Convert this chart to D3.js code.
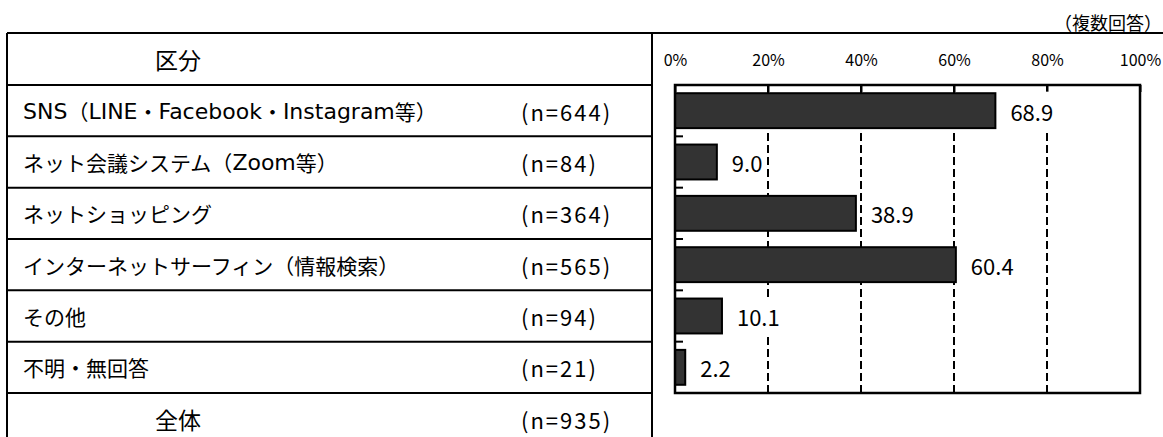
<!DOCTYPE html>
<html>
<head>
<meta charset="utf-8">
<script src="https://cdn.jsdelivr.net/npm/d3@7"></script>
<style>
  body { margin: 0; background: #fff; }
  svg text { font-family: "Noto Sans CJK JP", "Noto Sans", sans-serif; fill: #000; }
  svg tspan.latin { font-family: "DejaVu Sans", "Noto Sans CJK JP", sans-serif; font-size: 22px; }
</style>
</head>
<body>
<svg id="chart" width="1163" height="437"></svg>
<script>
// data
const categories = [
  "SNS（LINE・Facebook・Instagram等）",
  "ネット会議システム（Zoom等）",
  "ネットショッピング",
  "インターネットサーフィン（情報検索）",
  "その他",
  "不明・無回答"
];
const nCounts = [644, 84, 364, 565, 94, 21];
const values = [68.9, 9.0, 38.9, 60.4, 10.1, 2.2];
const totalLabel = "全体";
const totalN = 935;
const xTicks = [0, 20, 40, 60, 80, 100];
const headerLabel = "区分";
const noteLabel = "（複数回答）";

const svg = d3.select("#chart");

const tableLeft = 7, tableRight = 652, frameTop = 33;
const plotLeft = 675, plotRight = 1140, plotTop = 85, plotBottom = 393;

const x = d3.scaleLinear().domain([0, 100]).range([plotLeft, plotRight]);
const y = d3.scaleBand()
  .domain(categories)
  .range([plotTop, plotBottom])
  .paddingInner(0.32)
  .paddingOuter(0.16);

const step = y.step();
const cellTop = c => y(c) - step * 0.16;

// ---- table ----
const table = svg.append("g");

const rowLines = [plotTop].concat(categories.map(c => cellTop(c) + step));
table.selectAll(".rowline")
  .data(rowLines)
  .join("line")
  .attr("x1", tableLeft).attr("x2", tableRight)
  .attr("y1", d => d).attr("y2", d => d)
  .attr("stroke", "#000").attr("stroke-width", 2);

table.append("line")
  .attr("x1", tableLeft).attr("x2", 1163)
  .attr("y1", frameTop).attr("y2", frameTop)
  .attr("stroke", "#000").attr("stroke-width", 2);
table.selectAll(".vline")
  .data([tableLeft, tableRight])
  .join("line")
  .attr("x1", d => d).attr("x2", d => d)
  .attr("y1", frameTop).attr("y2", 437)
  .attr("stroke", "#000").attr("stroke-width", 2);

table.append("text")
  .attr("x", 178).attr("y", (frameTop + plotTop) / 2)
  .attr("text-anchor", "middle")
  .attr("dominant-baseline", "central")
  .style("font-size", "23px")
  .text(headerLabel);

// category labels: latin runs in a wider face, like the original
table.selectAll(".catlabel")
  .data(categories)
  .join("text")
  .attr("x", 23)
  .attr("y", d => cellTop(d) + step / 2)
  .attr("dominant-baseline", "central")
  .style("font-size", "21px")
  .each(function(d) {
    const t = d3.select(this);
    d.split(/([\x20-\x7E]+)/).filter(s => s.length).forEach(s => {
      t.append("tspan")
        .attr("class", /^[\x20-\x7E]+$/.test(s) ? "latin" : null)
        .attr("dominant-baseline", "central")
        .text(s);
    });
  });

const nLabel = n => `(n=${n})`;
table.selectAll(".nlabel")
  .data(nCounts)
  .join("text")
  .attr("x", 521)
  .attr("y", (d, i) => cellTop(categories[i]) + step / 2)
  .attr("dominant-baseline", "central")
  .style("font-size", "22px")
  .style("letter-spacing", "2px")
  .text(nLabel);

const totalY = plotBottom + step / 2;
table.append("text")
  .attr("x", 178).attr("y", totalY)
  .attr("text-anchor", "middle")
  .attr("dominant-baseline", "central")
  .style("font-size", "23px")
  .text(totalLabel);
table.append("text")
  .attr("x", 521).attr("y", totalY)
  .attr("dominant-baseline", "central")
  .style("font-size", "22px")
  .style("letter-spacing", "2px")
  .text(nLabel(totalN));

svg.append("text")
  .attr("x", 1162).attr("y", 22)
  .attr("text-anchor", "end")
  .attr("dominant-baseline", "central")
  .style("font-size", "18px")
  .text(noteLabel);

// ---- chart ----
const g = svg.append("g");

g.selectAll(".grid")
  .data(xTicks.filter(d => d > 0 && d < 100))
  .join("line")
  .attr("x1", d => x(d)).attr("x2", d => x(d))
  .attr("y1", plotTop).attr("y2", plotBottom)
  .attr("stroke", "#000").attr("stroke-width", 2)
  .attr("stroke-dasharray", "8,4");

const xAxis = g.append("g")
  .attr("transform", `translate(0,${plotTop})`)
  .call(d3.axisTop(x)
    .tickValues(xTicks)
    .tickFormat(d => d + "%")
    .tickSizeInner(-7)
    .tickSizeOuter(0)
    .tickPadding(19));
xAxis.select(".domain").remove();
xAxis.selectAll("line").attr("stroke", "#000").attr("stroke-width", 2);
xAxis.selectAll("text")
  .style("font-size", "16px")
  .style("font-family", "\"Noto Sans CJK JP\", sans-serif");

g.selectAll(".ytick")
  .data(categories.slice(1))
  .join("line")
  .attr("x1", plotLeft).attr("x2", plotLeft + 8)
  .attr("y1", d => cellTop(d)).attr("y2", d => cellTop(d))
  .attr("stroke", "#000").attr("stroke-width", 2);

g.selectAll(".bar")
  .data(values)
  .join("rect")
  .attr("x", x(0))
  .attr("y", (d, i) => y(categories[i]))
  .attr("width", d => x(d) - x(0))
  .attr("height", y.bandwidth())
  .attr("fill", "#333333")
  .attr("stroke", "#000")
  .attr("stroke-width", 2);

// value labels sit on a white box that hides the gridlines
const vals = g.selectAll(".val")
  .data(values)
  .join("g");
const valText = vals.append("text")
  .attr("x", d => x(d) + 15)
  .attr("y", (d, i) => y(categories[i]) + y.bandwidth() / 2)
  .attr("dominant-baseline", "central")
  .style("font-size", "22px")
  .text(d => d.toFixed(1));
valText.each(function(d, i) {
  const bb = this.getBBox();
  const cy = y(categories[i]) + y.bandwidth() / 2;
  d3.select(this.parentNode).insert("rect", "text")
    .attr("x", bb.x - 4).attr("y", cy - 19)
    .attr("width", bb.width + 8).attr("height", 38)
    .attr("fill", "#fff");
});

g.append("rect")
  .attr("x", plotLeft).attr("y", plotTop)
  .attr("width", plotRight - plotLeft).attr("height", plotBottom - plotTop)
  .attr("fill", "none")
  .attr("stroke", "#000").attr("stroke-width", 2.5);
</script>
</body>
</html>
